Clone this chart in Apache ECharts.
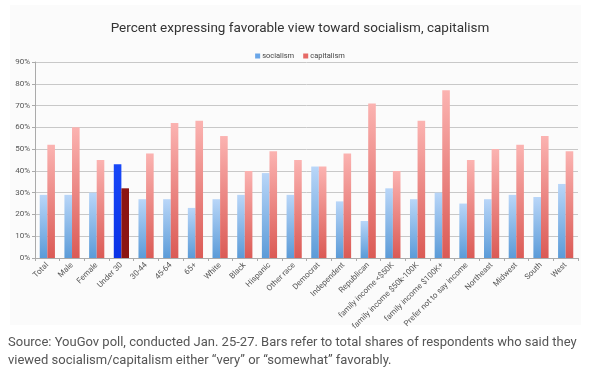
<!DOCTYPE html>
<html>
<head>
<meta charset="utf-8">
<script src="https://cdn.jsdelivr.net/npm/echarts@6/dist/echarts.min.js"></script>
<style>html,body{margin:0;padding:0;background:#fff;}#c{width:600px;height:380px;}</style>
</head>
<body>
<div id="c"></div>
<script>
var categories = ["Total","Male","Female","Under 30","30-44","45-64","65+","White","Black","Hispanic","Other race","Democrat","Independent","Republican","family income <$50K","family income $50k-100K","family income $100K+","Prefer not to say income","Northeast","Midwest","South","West"];
var socialism = [29,29,30,43,27,27,23,27,29,39,29,42,26,17,32,27,30,25,27,29,28,34];
var capitalism = [52,60,45,32,48,62,63,56,40,49,45,42,48,71,40,63,77,45,50,52,56,49];
var yTicks = [0,10,20,30,40,50,60,70,80,90];
var highlightIndex = 3;

var FONT = '"Roboto","Liberation Sans",sans-serif';
function grad(top, bottom){
  return new echarts.graphic.LinearGradient(0,0,0,1,[{offset:0,color:top},{offset:1,color:bottom}]);
}
var socGrad = grad('#b9d6f8','#5b9bd8');
var capGrad = grad('#fbb3b1','#db5a55');

var socData = socialism.map(function(v,i){
  return i===highlightIndex ? {value:v,itemStyle:{color:grad('#1848f8','#0a32e6')}} : {value:v};
});
var capData = capitalism.map(function(v,i){
  return i===highlightIndex ? {value:v,itemStyle:{color:'#8c1512'}} : {value:v};
});

var chart = echarts.init(document.getElementById('c'), null, {renderer:'canvas'});
chart.setOption({
  backgroundColor:'#ffffff',
  animation:false,
  graphic:[
    {type:'rect', left:10, top:5, shape:{width:571, height:320}, style:{fill:'#fbfbfb'}, z:-10},
    {type:'text', left:8, top:334, style:{
      text:'Source: YouGov poll, conducted Jan. 25-27. Bars refer to total shares of respondents who said they\nviewed socialism/capitalism either \u201cvery\u201d or \u201csomewhat\u201d favorably.',
      font:'13px '+FONT, fill:'#555555', lineHeight:18}}
  ],
  title:{
    text:'Percent expressing favorable view toward socialism, capitalism',
    left:'center', top:17,
    textStyle:{fontSize:13.5, fontWeight:'normal', color:'#333333', fontFamily:FONT}
  },
  legend:{
    top:47, left:'center', itemWidth:5, itemHeight:5, itemGap:9,
    icon:'rect',
    textStyle:{fontSize:7.5, color:'#444', fontFamily:FONT, padding:[0,0,0,-3]},
    data:[{name:'socialism',itemStyle:{color:'#6aa6e8'}},{name:'capitalism',itemStyle:{color:'#e66a66'}}]
  },
  grid:{left:35, right:22, top:62, bottom:122, containLabel:false},
  xAxis:{
    type:'category', data:categories,
    axisLine:{lineStyle:{color:'#aaaaaa'}},
    axisTick:{show:true, length:3, lineStyle:{color:'#aaaaaa'}},
    axisLabel:{rotate:45, fontSize:8, color:'#555555', fontFamily:FONT, interval:0, margin:6}
  },
  yAxis:{
    type:'value', min:0, max:90, interval:10,
    axisLine:{show:true, lineStyle:{color:'#aaaaaa'}},
    axisTick:{show:true, length:3, lineStyle:{color:'#aaaaaa'}},
    splitLine:{lineStyle:{color:'#c8c8c8'}},
    axisLabel:{fontSize:8, color:'#555555', fontFamily:FONT, margin:5,
      formatter:function(v){return yTicks.indexOf(v)>=0 ? v+'%' : '';}}
  },
  series:[
    {name:'socialism', type:'bar', data:socData, barWidth:7.6, barGap:'0%', itemStyle:{color:socGrad}},
    {name:'capitalism', type:'bar', data:capData, barWidth:7.6, barGap:'0%', itemStyle:{color:capGrad}}
  ]
});
</script>
</body>
</html>
